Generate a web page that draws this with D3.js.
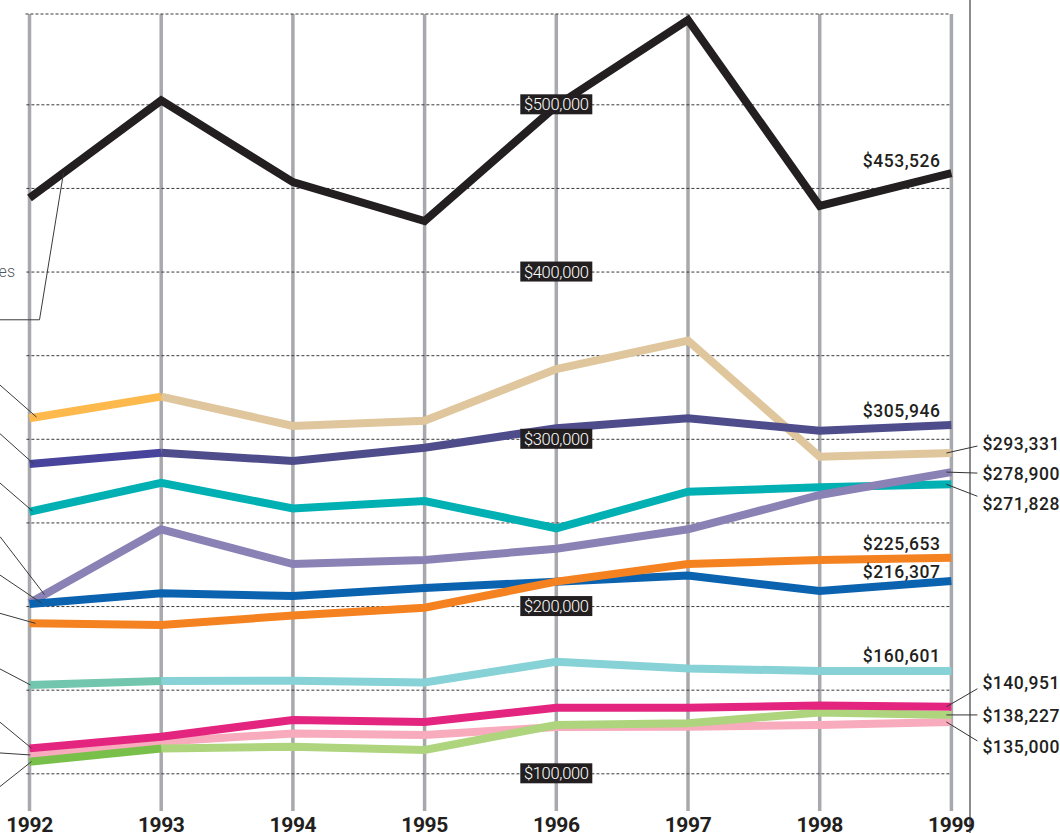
<!DOCTYPE html>
<html><head><meta charset="utf-8">
<script src="https://cdn.jsdelivr.net/npm/d3@7"></script>
<style>html,body{margin:0;padding:0;background:#fff;overflow:hidden;} svg{display:block;}</style>
</head><body>
<svg id="chart" width="1060" height="833"></svg>
<script>
// ---------- DATA ----------
const years = [1992, 1993, 1994, 1995, 1996, 1997, 1998, 1999];
const seriesBlack    = [444000, 502300, 453500, 430200, 499000, 550400, 439200, 458900];
const seriesTan      = [312300, 325200, 307700, 310800, 341700, 358700, 289300, 291500];
const seriesIndigo   = [284900, 291700, 286700, 294700, 306300, 312300, 304800, 308300];
const seriesTeal     = [256400, 273700, 258400, 262800, 246500, 268400, 271000, 272800];
const seriesLavender = [201800, 245900, 225100, 227500, 234300, 245900, 266400, 280100];
const seriesBlue     = [201200, 207600, 206000, 210800, 214600, 218300, 209000, 215000];
const seriesOrange   = [189700, 188700, 194300, 199000, 214600, 225100, 227500, 228900];
const seriesCyan     = [152800, 155200, 155400, 154300, 166700, 162700, 161200, 161200];
const seriesMagenta  = [114900, 121900, 131900, 130700, 139200, 139200, 140500, 139800];
const seriesPink     = [110900, 118900, 123800, 122900, 127700, 127900, 128900, 130700];
const seriesGreen    = [106900, 114800, 115900, 113900, 128900, 129900, 136400, 134900];
const yTickValues = [100000, 200000, 300000, 400000, 500000];
const yTickLabels = ["$100,000", "$200,000", "$300,000", "$400,000", "$500,000"];
const gridValues  = [100000, 150000, 200000, 250000, 300000, 350000, 400000, 450000, 500000];
const endLabels = {
  black: "$453,526", tan: "$293,331", indigo: "$305,946", teal: "$271,828",
  lavender: "$278,900", blue: "$216,307", orange: "$225,653", cyan: "$160,601",
  magenta: "$140,951", pink: "$135,000", green: "$138,227"
};
const leftLabelFragment = "es";

// ---------- STYLE / LAYOUT ----------
const W = 1060, H = 833;
const plotTop = 14, vlineBottom = 811;
const x = d3.scalePoint().domain(years).range([29.5, 951.4]);
const y = d3.scaleLinear().domain([100000, 500000]).range([773.3, 104.3]);
const step = x.step();

// draw order bottom -> top
const series = [
  {key:"tan",      values:seriesTan,      color:"#DFC69C", first:"#FDB94B", label:{mode:"side", dy:-3, ly:-7},  left:{dx:7,  dy:-32}},
  {key:"indigo",   values:seriesIndigo,   color:"#4F4C8C", first:"#48449B", label:{mode:"above", dy:-8},         left:{dx:4,  dy:-30}},
  {key:"teal",     values:seriesTeal,     color:"#00B0B3", label:{mode:"side", dy:26, ly:12},                    left:{dx:3,  dy:-28}},
  {key:"lavender", values:seriesLavender, color:"#8A82B5", label:{mode:"side", dy:8, ly:1},                      left:{dx:15, dy:-58}},
  {key:"blue",     values:seriesBlue,     color:"#0B63B0", label:{mode:"above", dy:-3},                          left:{dx:12, dy:-28}},
  {key:"orange",   values:seriesOrange,   color:"#F58220", label:{mode:"above", dy:-8},                          left:{dx:6,  dy:-10}},
  {key:"cyan",     values:seriesCyan,     color:"#86D2D6", first:"#72C6AD", label:{mode:"above", dy:-9},         left:{dx:1,  dy:-16}},
  {key:"pink",     values:seriesPink,     color:"#F7ABBD", label:{mode:"side", dy:31, ly:19},                    left:{dx:1,  dy:-2}},
  {key:"green",    values:seriesGreen,    color:"#AED47E", first:"#79C04B", label:{mode:"side", dy:7, ly:0},     left:{dx:2,  dy:25}},
  {key:"magenta",  values:seriesMagenta,  color:"#E32580", label:{mode:"side", dy:-18, ly:-18},                  left:{dx:2,  dy:-26}},
  {key:"black",    values:seriesBlack,    color:"#231F20", label:{mode:"above", dy:-6},                          left:{dx:34, dy:147, elbow:true}}
];

const svg = d3.select("#chart");
svg.append("rect").attr("width", W).attr("height", H).attr("fill", "#fff");

// vertical year lines
svg.append("g").selectAll("line").data(years).join("line")
  .attr("x1", d => x(d)).attr("x2", d => x(d))
  .attr("y1", plotTop).attr("y2", vlineBottom)
  .attr("stroke", "#A7A9AC").attr("stroke-width", 3.5);

// dashed horizontal grid (via d3 axis)
const xL = x(years[0]) - 4, xR = x(years[years.length-1]) - 2;
const gg = svg.append("g").attr("transform", `translate(${xR},0)`)
  .call(d3.axisRight(y).tickValues(gridValues).tickSize(-(xR - xL)).tickFormat(""));
gg.select(".domain").remove();
gg.selectAll(".tick line").attr("stroke", "#3a3a3a").attr("stroke-width", 1).attr("stroke-dasharray", "3,2");
svg.append("line").attr("x1", xL).attr("x2", xR).attr("y1", plotTop).attr("y2", plotTop)
  .attr("stroke", "#3a3a3a").attr("stroke-width", 1).attr("stroke-dasharray", "3,2");

// right frame line
svg.append("line").attr("x1", 970).attr("x2", 970).attr("y1", 0).attr("y2", H)
  .attr("stroke", "#8C8C8C").attr("stroke-width", 2);

// year labels (partly cut by the bottom edge, as in the reference)
svg.append("g").selectAll("text").data(years).join("text")
  .attr("x", d => x(d)).attr("y", 832)
  .attr("text-anchor", "middle")
  .attr("font-family", "Roboto, sans-serif")
  .attr("font-weight", 700).attr("font-size", 21).attr("letter-spacing", -0.4).attr("fill", "#231F20")
  .text(d => d);

// lines
const line = d3.line().x((d) => x(d[0])).y(d => y(d[1])).curve(d3.curveLinear);
const linesG = svg.append("g").attr("fill", "none").attr("stroke-width", 8)
  .attr("stroke-linejoin", "miter").attr("stroke-miterlimit", 6).attr("stroke-linecap", "butt");
series.forEach(s => {
  const pts = years.map((yr, i) => [yr, s.values[i]]);
  if (s.first) {
    linesG.append("path").attr("d", line(pts.slice(1))).attr("stroke", s.color);
    linesG.append("path").attr("d", line(pts.slice(0, 2))).attr("stroke", s.first);
  } else {
    linesG.append("path").attr("d", line(pts)).attr("stroke", s.color);
  }
});

// y tick labels (white text on black boxes) centered on 1996
const labX = x(1996);
const tg = svg.append("g");
yTickValues.forEach((v, i) => {
  tg.append("rect").attr("x", labX - 36).attr("y", y(v) - 10).attr("width", 72).attr("height", 20)
    .attr("fill", "#231F20");
  tg.append("text").attr("x", labX).attr("y", y(v) + 6)
    .attr("text-anchor", "middle")
    .attr("font-family", "Roboto, sans-serif").attr("font-weight", 300)
    .attr("font-size", 16.5).attr("letter-spacing", -0.3).attr("fill", "#fff").text(yTickLabels[i]);
});

// end labels
const lastYr = years[years.length - 1];
const xe = x(lastYr);
const lg = svg.append("g").attr("font-family", "Roboto, sans-serif").attr("font-weight", 500)
  .attr("font-size", 17.5).attr("fill", "#231F20").attr("letter-spacing", 0.5);
series.forEach(s => {
  const v = s.values[s.values.length - 1];
  const ly = y(v);
  if (s.label.mode === "above") {
    lg.append("text").attr("x", xe - 11).attr("y", ly + s.label.dy)
      .attr("text-anchor", "end").text(endLabels[s.key]);
  } else {
    lg.append("text").attr("x", xe + 31).attr("y", ly + s.label.dy)
      .attr("text-anchor", "start").text(endLabels[s.key]);
    svg.append("line").attr("x1", xe - 5).attr("y1", ly).attr("x2", xe + 26).attr("y2", ly + s.label.ly)
      .attr("stroke", "#333").attr("stroke-width", 1);
  }
});

// left leader lines (their labels are cut off at the left edge)
const lead = svg.append("g").attr("fill", "none").attr("stroke", "#3a3a3a").attr("stroke-width", 1);
series.forEach(s => {
  const x0 = x(years[0]);
  const y0 = y(s.values[0]), y1 = y(s.values[1]);
  const ex = x0 + s.left.dx;
  const ey = y0 + (y1 - y0) * s.left.dx / step;
  if (s.left.elbow) {
    lead.append("path").attr("d", `M0,${ey + s.left.dy}L${ex - 24},${ey + s.left.dy}L${ex},${ey}`);
  } else {
    lead.append("path").attr("d", `M0,${ey + s.left.dy}L${ex},${ey}`);
  }
});
// fragment of the cut-off left label
svg.append("text").attr("x", 15).attr("y", 277).attr("text-anchor", "end")
  .attr("font-family", "Roboto, sans-serif").attr("font-weight", 300)
  .attr("font-size", 16).attr("fill", "#555").text(leftLabelFragment);
</script>
</body></html>
